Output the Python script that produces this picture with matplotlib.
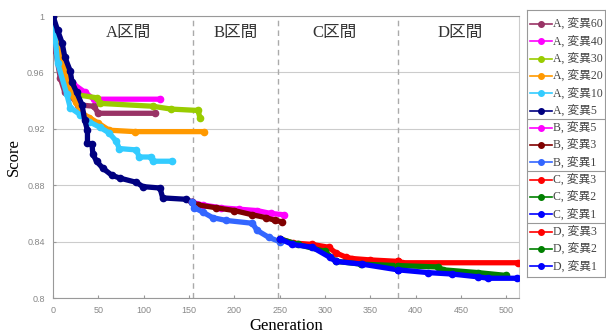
import matplotlib
matplotlib.use("Agg")
import matplotlib.pyplot as plt

plt.rcParams['font.family'] = ['Liberation Serif', 'Noto Sans CJK JP']

# series: generation / best score
a60_gen = [0, 3, 8, 13, 20, 28, 45, 50, 113]
a60_val = [1.0, 0.975, 0.956, 0.946, 0.943, 0.937, 0.936, 0.931, 0.931]
a40_gen = [0, 5, 11, 16, 22, 35, 45, 118]
a40_val = [1.0, 0.985, 0.969, 0.962, 0.952, 0.946, 0.941, 0.941]
a30_gen = [0, 6, 12, 20, 28, 48, 52, 110, 130, 160, 162]
a30_val = [1.0, 0.980, 0.962, 0.950, 0.944, 0.942, 0.938, 0.936, 0.934, 0.933, 0.928]
a20_gen = [0, 3, 10, 20, 25, 32, 40, 50, 62, 90, 167]
a20_val = [1.0, 0.990, 0.966, 0.945, 0.939, 0.931, 0.928, 0.924, 0.919, 0.918, 0.918]
a10_gen = [0, 5, 15, 19, 30, 40, 52, 62, 70, 73, 92, 95, 108, 110, 131]
a10_val = [1.0, 0.967, 0.945, 0.935, 0.930, 0.925, 0.921, 0.917, 0.911, 0.906, 0.905, 0.900,
           0.900, 0.897, 0.897]
a5_gen = [0, 5, 10, 13, 19, 21, 26, 32, 35, 38, 38, 43, 44, 48, 55, 65, 74, 92, 99, 118, 121, 147, 153]
a5_val = [1.0, 0.990, 0.981, 0.971, 0.961, 0.953, 0.946, 0.937, 0.926, 0.919, 0.910, 0.909, 0.902,
          0.897, 0.892, 0.887, 0.885, 0.882, 0.879, 0.878, 0.871, 0.870, 0.868]

b5_gen = [153, 165, 185, 205, 225, 240, 255]
b5_val = [0.868, 0.866, 0.864, 0.863, 0.862, 0.860, 0.859]
b3_gen = [153, 160, 180, 200, 220, 235, 245, 253]
b3_val = [0.868, 0.866, 0.864, 0.862, 0.859, 0.857, 0.855, 0.854]
b1_gen = [153, 156, 165, 176, 191, 220, 225, 238, 250]
b1_val = [0.868, 0.864, 0.861, 0.857, 0.855, 0.853, 0.848, 0.843, 0.840]

c3_gen = [250, 265, 286, 304, 312, 323, 330, 350, 380]
c3_val = [0.842, 0.839, 0.838, 0.836, 0.832, 0.829, 0.828, 0.827, 0.826]
c2_gen = [250, 270, 300, 312, 340, 380]
c2_val = [0.842, 0.838, 0.833, 0.826, 0.824, 0.823]
c1_gen = [250, 264, 286, 305, 312, 341, 380]
c1_val = [0.842, 0.838, 0.836, 0.829, 0.826, 0.824, 0.820]

d3_gen = [380, 385, 513]
d3_val = [0.826, 0.825, 0.825]
d2_gen = [380, 425, 430, 469, 500]
d2_val = [0.823, 0.822, 0.820, 0.818, 0.816]
d1_gen = [380, 414, 440, 469, 480, 512]
d1_val = [0.820, 0.818, 0.817, 0.815, 0.814, 0.814]

labels = ["A, 変異60", "A, 変異40", "A, 変異30", "A, 変異20", "A, 変異10", "A, 変異5",
          "B, 変異5", "B, 変異3", "B, 変異1",
          "C, 変異3", "C, 変異2", "C, 変異1",
          "D, 変異3", "D, 変異2", "D, 変異1"]
colors = ["#993366", "#ff00ff", "#99cc00", "#ff9900", "#33ccff", "#000080",
          "#ff00ff", "#800000", "#3366ff",
          "#ff0000", "#008000", "#0000ff",
          "#ff0000", "#008000", "#0000ff"]
gens = [a60_gen, a40_gen, a30_gen, a20_gen, a10_gen, a5_gen,
        b5_gen, b3_gen, b1_gen, c3_gen, c2_gen, c1_gen, d3_gen, d2_gen, d1_gen]
vals = [a60_val, a40_val, a30_val, a20_val, a10_val, a5_val,
        b5_val, b3_val, b1_val, c3_val, c2_val, c1_val, d3_val, d2_val, d1_val]

sections = ["A区間", "B区間", "C区間", "D区間"]
boundaries = [154, 248, 380]

fig = plt.figure(figsize=(6.06, 3.36), dpi=100)
ax = fig.add_axes([53/606, 1-298/336, 466/606, 282/336])

for b in boundaries:
    ax.axvline(b, color="#aaaaaa", lw=1, ls=(0, (4, 3)), zorder=1)

for g, v, c in zip(gens, vals, colors):
    ax.plot(g, v, color=c, lw=3.8, marker="o", ms=4.5,
            solid_capstyle="round", solid_joinstyle="round", zorder=3)

ax.set_xlim(0, 514)
ax.set_ylim(0.8, 1.0)
ax.set_xticks(range(0, 501, 50))
ax.set_yticks([0.8, 0.84, 0.88, 0.92, 0.96, 1.0])
ax.set_yticklabels(["0.8", "0.84", "0.88", "0.92", "0.96", "1"])
ax.grid(axis="y", color="#cccccc", lw=0.8)
ax.set_axisbelow(True)
for s in ax.spines.values():
    s.set_color("#999999")
ax.spines["right"].set_color("#cccccc")
ax.tick_params(direction="in", length=2, color="#999999", labelcolor="#888888",
               labelsize=6.5, pad=6)
for t in ax.get_xticklabels() + ax.get_yticklabels():
    t.set_family("Liberation Sans")

for name, xc in zip(sections, [83, 201, 311, 449]):
    ax.text(xc, 0.988, name, ha="center", va="center", fontsize=12, color="#333333")

ax.set_ylabel("Score", fontsize=12, labelpad=4)
ax.set_xlabel("Generation", fontsize=12, labelpad=2)

# legend drawn in pixel coords
lg = fig.add_axes([527/606, 1-277/336, 78/606, 267/336])
lg.set_xlim(527, 605)
lg.set_ylim(277, 10)
lg.set_xticks([])
lg.set_yticks([])
for s in lg.spines.values():
    s.set_color("#999999")
for i, (lab, c) in enumerate(zip(labels, colors)):
    y = 24 + 17.3 * i
    lg.plot([530, 552], [y, y], color=c, lw=1.2)
    lg.plot([541], [y], color=c, marker="o", ms=4)
    lg.text(553, y, lab, va="center", ha="left", fontsize=8.5, color="#444444")
for ys in [119, 171, 223]:
    lg.axhline(ys, color="#999999", lw=0.8)

fig.savefig("out.png", dpi=100)
